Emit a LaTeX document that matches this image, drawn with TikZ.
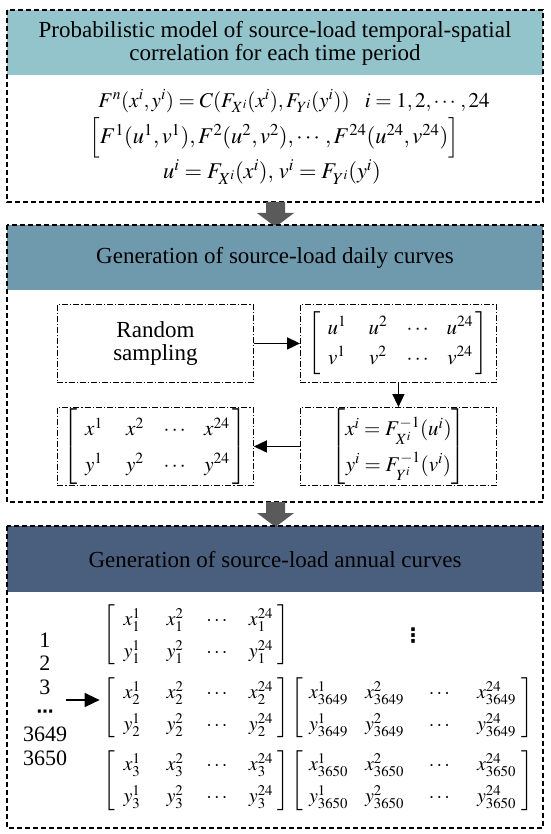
\documentclass[tikz,border=0pt]{standalone}
\usepackage{amsmath}
\usepackage{mathptmx}
\usepackage{fontspec}
\setmainfont{Liberation Serif}
\newfontfamily\dvfont{DejaVu Sans}
\usetikzlibrary{arrows.meta}
\definecolor{headA}{HTML}{93C4CC}
\definecolor{headB}{HTML}{6F9AAE}
\definecolor{headC}{HTML}{4A5F7E}
\definecolor{blockarrow}{HTML}{5A5A5A}
\newcommand{\cel}[2]{\makebox[#1]{$#2$}}
\tikzset{
  outerbox/.style={draw=black, line width=1.1pt, dash pattern=on 5pt off 3pt},
  innerbox/.style={draw=black, line width=0.9pt, dash pattern=on 6pt off 2pt on 1.2pt off 2pt,
    minimum width=196pt, minimum height=78pt, inner sep=0pt, anchor=north west},
  titletext/.style={font=\fontsize{23}{23}\selectfont, align=center, text=black},
  mattext/.style={font=\fontsize{21}{25}\selectfont, inner sep=0pt},
  annmat/.style={font=\fontsize{20}{24}\selectfont, inner sep=0pt},
  conn/.style={-{Triangle[length=13pt,width=12pt]}, line width=1.6pt, draw=black},
  blockarr/.style={fill=blockarrow, draw=none}
}
\begin{document}
\begin{tikzpicture}[x=1pt,y=-1pt]
\useasboundingbox (0,0) rectangle (550,834);
% ---------- Box 1 ----------
\fill[headA] (7,10) rectangle (543,75);
\draw[outerbox] (7,10) rectangle (543,202);
\node[titletext] (t1) at (275,43) {Probabilistic model of source-load temporal-spatial\\correlation for each time period};
\node[font=\fontsize{21}{25}\selectfont, inner sep=0pt] (e1) at (294,101) {$F^{n}(x^{i},y^{i})=C(F_{X^{i}}(x^{i}),F_{Y^{i}}(y^{i}))\enspace\; i=1,2,\cdots,24$};
\node[font=\fontsize{22.5}{26}\selectfont, inner sep=0pt] (e2) at (274,138) {$\Big[F^{1}(u^{1},v^{1}),F^{2}(u^{2},v^{2}),\cdots,F^{24}(u^{24},v^{24})\Big]$};
\node[font=\fontsize{22.5}{26}\selectfont, inner sep=0pt] (e3) at (272,172) {$u^{i}=F_{X^{i}}(x^{i}),\,v^{i}=F_{Y^{i}}(y^{i})$};
% block arrow 1
\fill[blockarr] (266,202) -- (285,202) -- (285,213) -- (294,213) -- (275.5,227) -- (257,213) -- (266,213) -- cycle;
% ---------- Box 2 ----------
\fill[headB] (7,225) rectangle (543,290);
\draw[outerbox] (7,225) rectangle (543,502);
\node[titletext] (t2) at (275,258) {Generation of source-load daily curves};
\node[innerbox, titletext] (rs) at (57,304) {Random\\sampling};
\node[innerbox, mattext] (uv) at (300,304) {$\renewcommand{\arraystretch}{1.2}\setlength{\arraycolsep}{4.5pt}\begin{bmatrix} \cel{32pt}{u^{1}} & \cel{32pt}{u^{2}} & \cel{32pt}{\cdots} & \cel{32pt}{u^{24}}\\ \cel{32pt}{v^{1}} & \cel{32pt}{v^{2}} & \cel{32pt}{\cdots} & \cel{32pt}{v^{24}}\end{bmatrix}$};
\node[innerbox, mattext] (inv) at (300,407) {$\renewcommand{\arraystretch}{1.42}\setlength{\arraycolsep}{3pt}\begin{bmatrix} x^{i}=F^{-1}_{X^{i}}(u^{i})\\ y^{i}=F^{-1}_{Y^{i}}(v^{i})\end{bmatrix}$};
\node[innerbox, mattext] (xy) at (57,407) {$\renewcommand{\arraystretch}{1.42}\setlength{\arraycolsep}{4.5pt}\begin{bmatrix} \cel{32pt}{x^{1}} & \cel{32pt}{x^{2}} & \cel{32pt}{\cdots} & \cel{32pt}{x^{24}}\\ \cel{32pt}{y^{1}} & \cel{32pt}{y^{2}} & \cel{32pt}{\cdots} & \cel{32pt}{y^{24}}\end{bmatrix}$};
\draw[conn] (rs.east) -- (uv.west);
\draw[conn] (uv.south) -- (inv.north);
\draw[conn] (inv.west) -- (xy.east);
% block arrow 2
\fill[blockarr] (266,502) -- (285,502) -- (285,513) -- (294,513) -- (275.5,527) -- (257,513) -- (266,513) -- cycle;
% ---------- Box 3 ----------
\fill[headC] (7,526) rectangle (543,592);
\draw[outerbox] (7,526) rectangle (543,828);
\node[titletext] (t3) at (275,560) {Generation of source-load annual curves};
\node[font=\fontsize{22}{23.6}\selectfont, align=center, inner sep=0pt] (days) at (45,699) {1\\2\\3\\{\dvfont\fontsize{17}{23.6}\selectfont\bfseries ⋯}\\3649\\3650};
\node[annmat] (m1) at (196.5,635) {$\renewcommand{\arraystretch}{1.33}\setlength{\arraycolsep}{5pt}\begin{bmatrix} \cel{33pt}{x^{1}_{1}} & \cel{33pt}{x^{2}_{1}} & \cel{33pt}{\cdots} & \cel{33pt}{x^{24}_{1}}\\ \cel{33pt}{y^{1}_{1}} & \cel{33pt}{y^{2}_{1}} & \cel{33pt}{\cdots} & \cel{33pt}{y^{24}_{1}}\end{bmatrix}$};
\node[annmat] (m2) at (196.5,708) {$\renewcommand{\arraystretch}{1.33}\setlength{\arraycolsep}{5pt}\begin{bmatrix} \cel{33pt}{x^{1}_{2}} & \cel{33pt}{x^{2}_{2}} & \cel{33pt}{\cdots} & \cel{33pt}{x^{24}_{2}}\\ \cel{33pt}{y^{1}_{2}} & \cel{33pt}{y^{2}_{2}} & \cel{33pt}{\cdots} & \cel{33pt}{y^{24}_{2}}\end{bmatrix}$};
\node[annmat] (m3) at (196.5,780.5) {$\renewcommand{\arraystretch}{1.33}\setlength{\arraycolsep}{5pt}\begin{bmatrix} \cel{33pt}{x^{1}_{3}} & \cel{33pt}{x^{2}_{3}} & \cel{33pt}{\cdots} & \cel{33pt}{x^{24}_{3}}\\ \cel{33pt}{y^{1}_{3}} & \cel{33pt}{y^{2}_{3}} & \cel{33pt}{\cdots} & \cel{33pt}{y^{24}_{3}}\end{bmatrix}$};
\node[annmat] (m4) at (412.5,708) {$\renewcommand{\arraystretch}{1.33}\setlength{\arraycolsep}{3pt}\begin{bmatrix} \cel{50pt}{x^{1}_{3649}} & \cel{50pt}{x^{2}_{3649}} & \cel{50pt}{\cdots} & \cel{50pt}{x^{24}_{3649}}\\ \cel{50pt}{y^{1}_{3649}} & \cel{50pt}{y^{2}_{3649}} & \cel{50pt}{\cdots} & \cel{50pt}{y^{24}_{3649}}\end{bmatrix}$};
\node[annmat] (m5) at (412.5,780.5) {$\renewcommand{\arraystretch}{1.33}\setlength{\arraycolsep}{3pt}\begin{bmatrix} \cel{50pt}{x^{1}_{3650}} & \cel{50pt}{x^{2}_{3650}} & \cel{50pt}{\cdots} & \cel{50pt}{x^{24}_{3650}}\\ \cel{50pt}{y^{1}_{3650}} & \cel{50pt}{y^{2}_{3650}} & \cel{50pt}{\cdots} & \cel{50pt}{y^{24}_{3650}}\end{bmatrix}$};
\node[font=\dvfont\fontsize{20}{24}\selectfont\bfseries, inner sep=0pt] (vd) at (413,636) {⋮};
\coordinate (arrstart) at (66,700);
\draw[conn, -{Triangle[length=15pt,width=14pt]}, shorten >=4pt] (arrstart) -- (arrstart -| m2.west);
\end{tikzpicture}
\end{document}
